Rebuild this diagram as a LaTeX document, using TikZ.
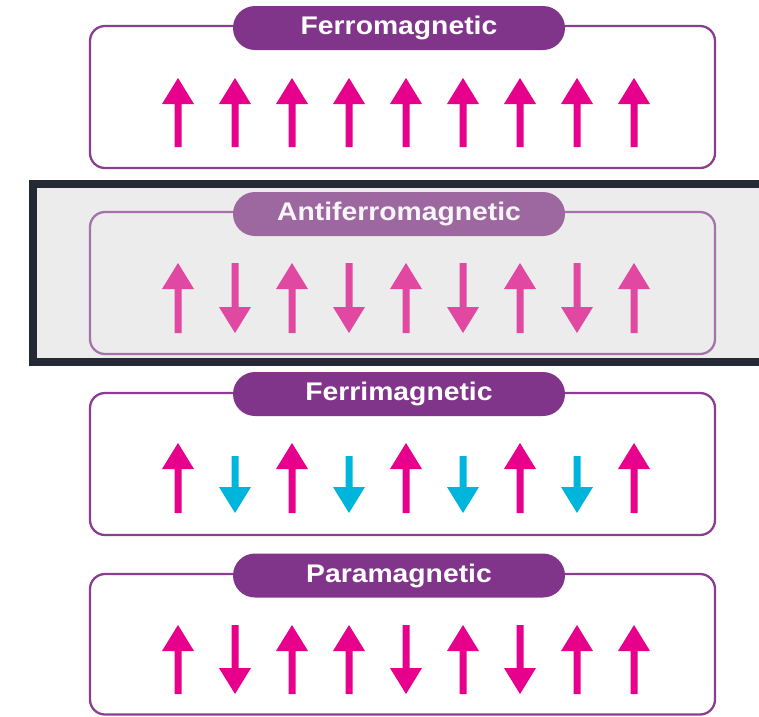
\documentclass[tikz,border=0pt]{standalone}
\usepackage{fontspec}
\usepackage{graphicx}
\setmainfont{Liberation Sans}
\usetikzlibrary{shapes.misc}
\definecolor{pillc}{HTML}{80358A}
\definecolor{boxc}{HTML}{8A3D91}
\definecolor{mag}{HTML}{E6008C}
\definecolor{cyanc}{HTML}{00B5DC}
\definecolor{pillfade}{HTML}{9D68A0}
\definecolor{boxfade}{HTML}{A572AB}
\definecolor{magfade}{HTML}{E048A2}
\definecolor{framec}{HTML}{232A35}
\definecolor{bgfade}{HTML}{ECECEC}
\newcommand\spinup[4]{\fill[#4] ({#1-16},{#2+26}) -- (#1,#2) -- ({#1+16},{#2+26}) -- ({#1+3.5},{#2+26}) -- ({#1+3.5},#3) -- ({#1-3.5},#3) -- ({#1-3.5},{#2+26}) -- cycle;}
\newcommand\spindown[4]{\fill[#4] ({#1-16},{#3-26}) -- (#1,#3) -- ({#1+16},{#3-26}) -- ({#1+3.5},{#3-26}) -- ({#1+3.5},#2) -- ({#1-3.5},#2) -- ({#1-3.5},{#3-26}) -- cycle;}
\tikzset{
  panelbox/.style={draw=boxc, line width=2.3, rounded corners=15},
  pill/.style={rounded rectangle, fill=pillc, text=white, minimum width=332, minimum height=44, inner sep=0,
    font=\fontsize{25.5}{25.5}\selectfont\bfseries, text height=18, text depth=4.5},
}
\newcommand\lbl[1]{\scalebox{1.11}[1]{#1}}
\begin{document}
\begin{tikzpicture}[x=1pt,y=-1pt]
\useasboundingbox (0,0) rectangle (759,716);
% highlight frame for panel 2
\fill[bgfade] (33,184) rectangle (790,362);
\draw[framec, line width=8] (790,184) -- (33,184) -- (33,362) -- (790,362);

% Panel 1: Ferromagnetic
\draw[panelbox] (90,26) rectangle (715,168);
\node[pill] (p1) at (399,28) {\lbl{Ferromagnetic}};
\foreach \i in {0,...,8} { \pgfmathsetmacro\xx{178+57*\i} \spinup{\xx}{78}{147}{mag} }

% Panel 2: Antiferromagnetic
\draw[panelbox, draw=boxfade] (90,212) rectangle (715,354);
\node[pill, fill=pillfade, text=white!93!pillfade] (p2) at (399,214) {\lbl{Antiferromagnetic}};
\foreach \i in {0,2,4,6,8} { \pgfmathsetmacro\xx{178+57*\i} \spinup{\xx}{263}{333}{magfade} }
\foreach \i in {1,3,5,7} { \pgfmathsetmacro\xx{178+57*\i} \spindown{\xx}{263}{333}{magfade} }

% Panel 3: Ferrimagnetic
\draw[panelbox] (90,393) rectangle (715,535);
\node[pill] (p3) at (399,394) {\lbl{Ferrimagnetic}};
\foreach \i in {0,2,4,6,8} { \pgfmathsetmacro\xx{178+57*\i} \spinup{\xx}{443}{513}{mag} }
\foreach \i in {1,3,5,7} { \pgfmathsetmacro\xx{178+57*\i} \spindown{\xx}{456}{513}{cyanc} }

% Panel 4: Paramagnetic
\draw[panelbox] (90,574) rectangle (715,714.5);
\node[pill] (p4) at (399,575.5) {\lbl{Paramagnetic}};
\foreach \i in {0,2,3,5,7,8} { \pgfmathsetmacro\xx{178+57*\i} \spinup{\xx}{625}{694}{mag} }
\foreach \i in {1,4,6} { \pgfmathsetmacro\xx{178+57*\i} \spindown{\xx}{625}{694}{mag} }
\end{tikzpicture}
\end{document}
